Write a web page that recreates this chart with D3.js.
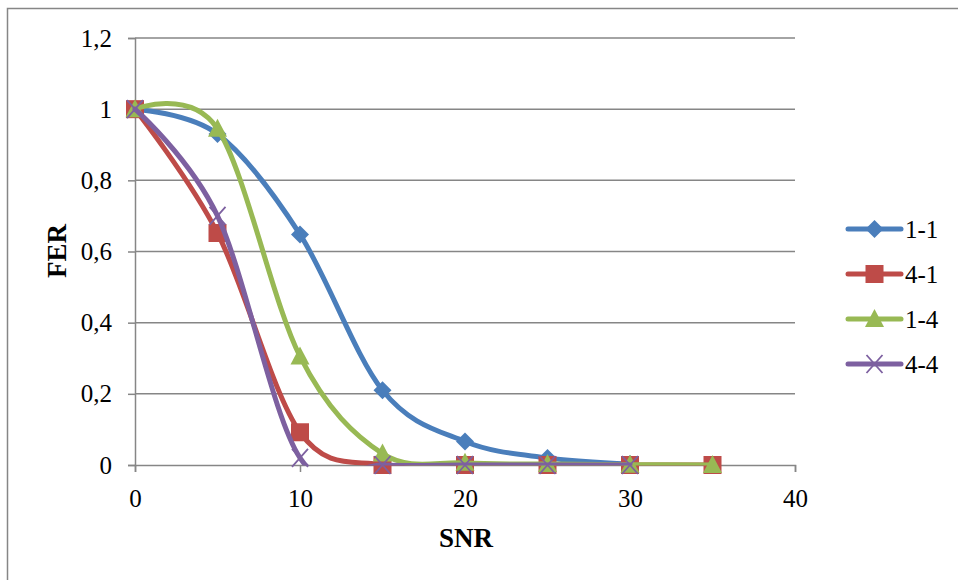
<!DOCTYPE html>
<html><head><meta charset="utf-8">
<script src="https://cdn.jsdelivr.net/npm/d3@7"></script>
<style>body{margin:0;background:#fff}</style>
</head><body>
<svg id="c" width="958" height="580"></svg>
<script>
const snr = [0, 5, 10, 15, 20, 25, 30, 35];
const s11 = [1, 0.93, 0.648, 0.21, 0.066, 0.02, 0.003];
const s41 = [1, 0.652, 0.092, 0, 0, 0, 0, 0];
const s14 = [1, 0.945, 0.305, 0.032, 0.006, 0.003, 0.001, 0];
const s44 = [1, 0.7, 0.02, 0, 0, 0, 0];
const seriesNames = ["1-1", "4-1", "1-4", "4-4"];
const seriesColors = ["#4a7ebb", "#be4b48", "#98b954", "#7d60a0"];
const seriesMarkers = ["diamond", "square", "triangle", "cross"];
const seriesValues = [s11, s41, s14, s44];
const yTicks = [0, 0.2, 0.4, 0.6, 0.8, 1, 1.2];
const xTicks = [0, 10, 20, 30, 40];

const svg = d3.select("#c");
const font = "Liberation Serif, Times New Roman, serif";
svg.append("rect").attr("x", 7.5).attr("y", 8.5).attr("width", 1000).attr("height", 1000)
  .attr("fill", "#fff").attr("stroke", "#868686").attr("stroke-width", 1.5);

const x = d3.scaleLinear().domain([0, 40]).range([135, 795]);
const y = d3.scaleLinear().domain([0, 1.2]).range([465, 38]);
const grid = "#868686";

svg.append("defs").append("clipPath").attr("id", "clip").append("rect")
  .attr("x", 0).attr("y", 0).attr("width", 958).attr("height", y(0) + 0.5);

svg.append("g").selectAll("line").data(yTicks.filter(d => d > 0)).join("line")
  .attr("x1", x(0)).attr("x2", x(40)).attr("y1", d => y(d)).attr("y2", d => y(d))
  .attr("stroke", grid).attr("stroke-width", 1.5);

const yAx = svg.append("g").attr("transform", `translate(${x(0)},0)`)
  .call(d3.axisLeft(y).tickValues(yTicks).tickSize(7).tickPadding(16)
    .tickFormat(d => String(d).replace(".", ",")));
yAx.select(".domain").attr("stroke", grid).attr("stroke-width", 1.5);
yAx.selectAll(".tick line").attr("stroke", grid).attr("stroke-width", 1.5);
yAx.selectAll("text").attr("font-family", font).attr("font-size", 25).attr("fill", "#000");

const xAx = svg.append("g").attr("transform", `translate(0,${y(0)})`)
  .call(d3.axisBottom(x).tickValues(xTicks).tickSizeOuter(0).tickSize(7).tickPadding(17));
xAx.select(".domain").attr("stroke", grid).attr("stroke-width", 1.5);
xAx.selectAll(".tick line").attr("stroke", grid).attr("stroke-width", 1.5);
xAx.selectAll("text").attr("font-family", font).attr("font-size", 25).attr("fill", "#000");

svg.append("text").attr("x", 466).attr("y", 547).attr("text-anchor", "middle")
  .attr("font-family", font).attr("font-size", 27).attr("font-weight", "bold").text("SNR");
svg.append("text").attr("transform", "translate(66,251) rotate(-90)").attr("text-anchor", "middle")
  .attr("font-family", font).attr("font-size", 27).attr("font-weight", "bold").text("FER");

function marker(g, type, cx, cy, color) {
  if (type === "diamond") {
    g.append("path").attr("d", `M${cx},${cy-9}L${cx+9},${cy}L${cx},${cy+9}L${cx-9},${cy}Z`).attr("fill", color);
  } else if (type === "square") {
    g.append("rect").attr("x", cx-9).attr("y", cy-9).attr("width", 18).attr("height", 18).attr("fill", color);
  } else if (type === "triangle") {
    g.append("path").attr("d", `M${cx},${cy-10}L${cx+9.5},${cy+8}L${cx-9.5},${cy+8}Z`).attr("fill", color);
  } else {
    g.append("path").attr("d", `M${cx-8},${cy-9}L${cx+8},${cy+9}M${cx+8},${cy-9}L${cx-8},${cy+9}`)
      .attr("stroke", color).attr("stroke-width", 1.8).attr("fill", "none");
  }
}

const line = d3.line().x(d => x(d[0])).y(d => y(d[1])).curve(d3.curveCardinal.tension(0));
const plot = svg.append("g");
seriesValues.forEach((vals, i) => {
  const pts = vals.map((v, j) => [snr[j], v]);
  const g = plot.append("g");
  g.append("path").attr("d", line(pts)).attr("fill", "none").attr("clip-path", "url(#clip)")
    .attr("stroke", seriesColors[i]).attr("stroke-width", 5).attr("stroke-linecap", "round");
  pts.forEach(p => marker(g, seriesMarkers[i], x(p[0]), y(p[1]), seriesColors[i]));
});

const leg = svg.append("g");
seriesNames.forEach((n, i) => {
  const ly = 229 + i * 45;
  leg.append("line").attr("x1", 848).attr("x2", 901).attr("y1", ly).attr("y2", ly)
    .attr("stroke", seriesColors[i]).attr("stroke-width", 5).attr("stroke-linecap", "round");
  marker(leg, seriesMarkers[i], 874.5, ly, seriesColors[i]);
  leg.append("text").attr("x", 905).attr("y", ly + 9).attr("font-family", font)
    .attr("font-size", 25).text(n);
});
</script>
</body></html>
